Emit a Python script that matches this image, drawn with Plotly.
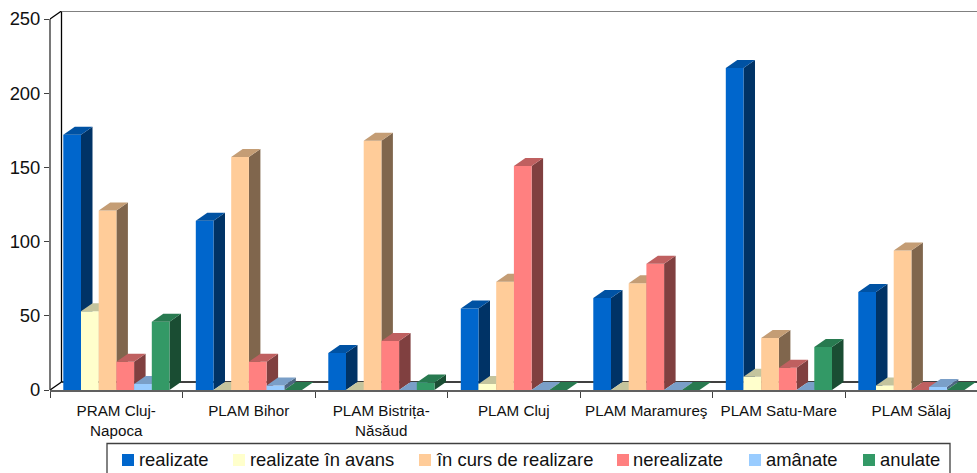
import plotly.graph_objects as go

categories = ["PRAM Cluj-<br>Napoca", "PLAM Bihor", "PLAM Bistrița-<br>Năsăud", "PLAM Cluj",
              "PLAM Maramureş", "PLAM Satu-Mare", "PLAM Sălaj"]
realizate = [172, 114, 25, 55, 62, 217, 66]
realizate_in_avans = [53, 0, 0, 4, 0, 9, 3]
in_curs = [121, 157, 168, 73, 72, 35, 94]
nerealizate = [19, 19, 33, 151, 85, 15, 0]
amanate = [4, 3, 0, 0, 0, 0, 2]
anulate = [46, 0, 5, 0, 0, 29, 0]
y_ticks = [0, 50, 100, 150, 200, 250]

series = [
    ("realizate", realizate, "#0066CC", "#003366", "#0052A3"),
    ("realizate în avans", realizate_in_avans, "#FFFFCC", "#808066", "#C4C49D"),
    ("în curs de realizare", in_curs, "#FFCC99", "#80664D", "#C49D75"),
    ("nerealizate", nerealizate, "#FF8080", "#804040", "#BF6060"),
    ("amânate", amanate, "#99CCFF", "#4D6680", "#7A9FC8"),
    ("anulate", anulate, "#339966", "#1A4D33", "#287A50"),
]

# pixel geometry of the pseudo-3D projection
W, H = 977, 473
L, R, T, B = 50, 0, 11, 83
CAT_PX = 132.5
UNIT_PX = 371 / 250
DX = 11.5 / CAT_PX          # depth, x axis units
DY = 8 / UNIT_PX            # depth, y axis units
PAD = 13.3 / CAT_PX
BAR = 17.7 / CAT_PX
X_MAX = (W - L - R) / CAT_PX
Y_MAX = (H - T - B) / UNIT_PX

# legend layout, pixels
LEG_SWATCH = [122, 233, 419, 617, 749, 863]
LEG_TEXT = [136.5, 247.5, 433.5, 630.5, 763.5, 877.5]

fig = go.Figure()


def poly(xs, ys, color, name):
    fig.add_trace(go.Scatter(x=xs, y=ys, mode="lines", fill="toself", fillcolor=color, name=name,
                             line=dict(width=0, color=color), showlegend=False, hoverinfo="skip"))


def frame(xs, ys, color, width=1.3):
    fig.add_trace(go.Scatter(x=xs, y=ys, mode="lines", line=dict(color=color, width=width),
                             showlegend=False, hoverinfo="skip"))


# walls of the 3D box
frame([DX, DX, X_MAX], [0 + DY, 250 + DY, 250 + DY], "#000000")
frame([DX, X_MAX], [DY, DY], "#000000")
frame([0, DX], [0, DY], "#000000")
frame([0, DX], [250, 250 + DY], "#000000")
frame([DX, X_MAX], [250 + DY, 250 + DY], "#808080", 2.2)

for s, (name, vals, front, side, top) in enumerate(series):
    fx, fy, sx, sy, tx, ty = [], [], [], [], [], []
    for c, v in enumerate(vals):
        x0 = c + PAD + s * BAR
        x1 = x0 + BAR
        fx += [x0, x1, x1, x0, x0, None]
        fy += [0, 0, v, v, 0, None]
        sx += [x1, x1 + DX, x1 + DX, x1, x1, None]
        sy += [0, DY, v + DY, v, 0, None]
        tx += [x0, x1, x1 + DX, x0 + DX, x0, None]
        ty += [v, v, v + DY, v + DY, v, None]
    poly(sx, sy, side, name)
    poly(fx, fy, front, name)
    poly(tx, ty, top, name)


def px_x(p):
    return (p - L) / (W - L - R)


def px_y(p):
    return (390 - p) / (H - T - B)


shapes = [dict(type="line", xref="paper", yref="y", layer="above", x0=0, x1=0, y0=0, y1=250,
               line=dict(color="#303030", width=1.3)),
          dict(type="rect", xref="paper", yref="paper", layer="above",
               x0=px_x(107), x1=px_x(950), y0=px_y(480), y1=px_y(443.5),
               line=dict(color="#404040", width=1.3), fillcolor="white")]
annotations = []
for (name, vals, front, side, top), sx, tx in zip(series, LEG_SWATCH, LEG_TEXT):
    shapes.append(dict(type="rect", xref="paper", yref="paper", layer="above",
                       x0=px_x(sx), x1=px_x(sx + 12), y0=px_y(466), y1=px_y(454),
                       line=dict(width=0), fillcolor=front))
    annotations.append(dict(text=name, xref="paper", yref="paper", x=px_x(tx), y=px_y(459.5),
                            xanchor="left", yanchor="middle", showarrow=False,
                            font=dict(size=18.4, color="#111111")))

fig.update_layout(
    width=W, height=H, autosize=False,
    margin=dict(l=L, r=R, t=T, b=B, pad=0, autoexpand=False),
    paper_bgcolor="white", plot_bgcolor="white",
    font=dict(family="Liberation Sans, Arial, sans-serif", color="#111111"),
    showlegend=False,
    shapes=shapes, annotations=annotations,
    xaxis=dict(range=[0, X_MAX], tickmode="array", tickvals=[i + 0.5 for i in range(7)],
               ticktext=categories, ticks="", showgrid=False, zeroline=False, tickangle=0,
               tickfont=dict(size=15.2), showline=True, linecolor="#606060", linewidth=2,
               ticklabelstandoff=6,
               minor=dict(tickmode="array", tickvals=list(range(8)), ticks="outside",
                          ticklen=6, tickcolor="#404040", tickwidth=1, showgrid=False)),
    yaxis=dict(range=[0, Y_MAX], tickmode="array", tickvals=y_ticks, ticks="outside", ticklen=5,
               tickcolor="#404040", tickwidth=1, showgrid=False, zeroline=False, showline=False,
               tickfont=dict(size=18.4)),
)

fig.write_html("out.html", config=dict(displayModeBar=False),
               post_script="document.body.style.margin='0';document.body.style.overflow='hidden';")
